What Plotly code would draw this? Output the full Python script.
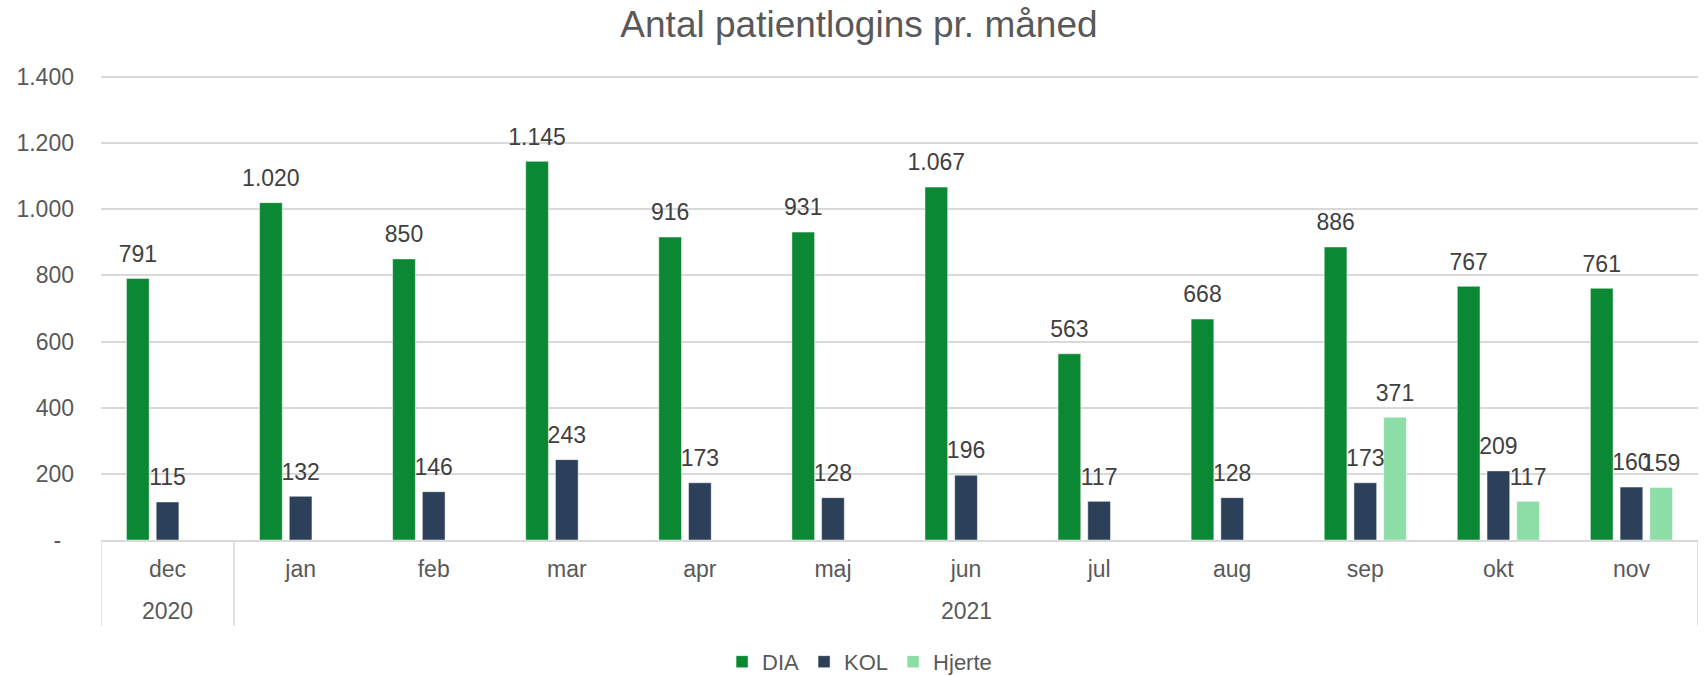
import plotly.graph_objects as go

years = ["2020"] + ["2021"] * 11
months = ["dec", "jan", "feb", "mar", "apr", "maj", "jun", "jul", "aug", "sep", "okt", "nov"]
dia = [791, 1020, 850, 1145, 916, 931, 1067, 563, 668, 886, 767, 761]
kol = [115, 132, 146, 243, 173, 128, 196, 117, 128, 173, 209, 160]
hjerte = [None, None, None, None, None, None, None, None, None, 371, 117, 159]

y_tickvals = [0, 200, 400, 600, 800, 1000, 1200, 1400]
y_ticktext = ["-\u00a0\u00a0", "200", "400", "600", "800", "1.000", "1.200", "1.400"]

series = [
    ("DIA", dia, "#0a8833"),
    ("KOL", kol, "#2c405a"),
    ("Hjerte", hjerte, "#8cdea6"),
]

FONT = "Liberation Sans, Arial, sans-serif"
GRID = "#d9d9d9"
fig = go.Figure()
for name, vals, col in series:
    fig.add_trace(go.Bar(
        name=name, x=months, y=vals, offsetgroup=name,
        marker=dict(color=col, line=dict(color="rgba(255,255,255,0.6)", width=0.8)),
        hoverinfo="skip",
    ))
# data labels, grouped the same way as the bars
for name, vals, col in series:
    fig.add_trace(go.Scatter(
        name=name, x=months, y=vals, offsetgroup=name, showlegend=False,
        mode="markers+text",
        marker=dict(size=16, opacity=0),
        text=[None if v is None else f"{v:,}".replace(",", ".") for v in vals],
        textposition="top center",
        cliponaxis=False,
        textfont=dict(family=FONT, size=23, color="#404040"),
    ))

# year group labels and dividers derived from the years list
groups = []
for i, yv in enumerate(years):
    if groups and groups[-1][0] == yv:
        groups[-1][2] = i
    else:
        groups.append([yv, i, i])
div_bottom = -0.185
for yv, i0, i1 in groups:
    fig.add_annotation(x=(i0 + i1) / 2, y=-0.1525, xref="x", yref="paper",
                       text=yv, showarrow=False, yanchor="middle",
                       font=dict(family=FONT, size=23, color="#595959"))
bounds = sorted({g[1] - 0.5 for g in groups} | {g[2] + 0.5 for g in groups})
for b in bounds:
    fig.add_shape(type="line", x0=b, x1=b, xref="x", y0=0, y1=div_bottom, yref="paper",
                  line=dict(color=GRID, width=1.5))

fig.update_layout(
    width=1706, height=676,
    separators=",.",
    barmode="group",
    bargap=0.33,
    bargroupgap=0.236,
    scattermode="group",
    scattergap=0.33,
    plot_bgcolor="white",
    paper_bgcolor="white",
    font=dict(family=FONT, size=23, color="#595959"),
    title=dict(text="Antal patientlogins pr. måned", x=0.5035, xanchor="center",
               y=0.965, yanchor="middle",
               font=dict(family=FONT, size=37, color="#595959")),
    margin=dict(l=101, r=8, t=75, b=136, autoexpand=False),
    legend=dict(orientation="h", x=0.475, xanchor="center", y=-0.262, yanchor="middle",
                font=dict(family=FONT, size=22, color="#595959"),
                itemwidth=30, traceorder="normal"),
    showlegend=True,
)
fig.update_yaxes(
    range=[0, 1406],
    tickvals=y_tickvals, ticktext=y_ticktext,
    showgrid=True, gridcolor=GRID, gridwidth=1.5,
    zeroline=False, showline=False,
    ticks="", ticklabelstandoff=26,
    tickfont=dict(family=FONT, size=23, color="#595959"),
)
fig.update_xaxes(
    type="category",
    range=[-0.5, 11.5],
    showline=True, linecolor=GRID, linewidth=1.5,
    ticks="", showgrid=False, ticklabelstandoff=8,
    tickfont=dict(family=FONT, size=23, color="#595959"),
)

fig.write_html("out.html", config={"displayModeBar": False},
               post_script="document.body.style.margin='0';")
